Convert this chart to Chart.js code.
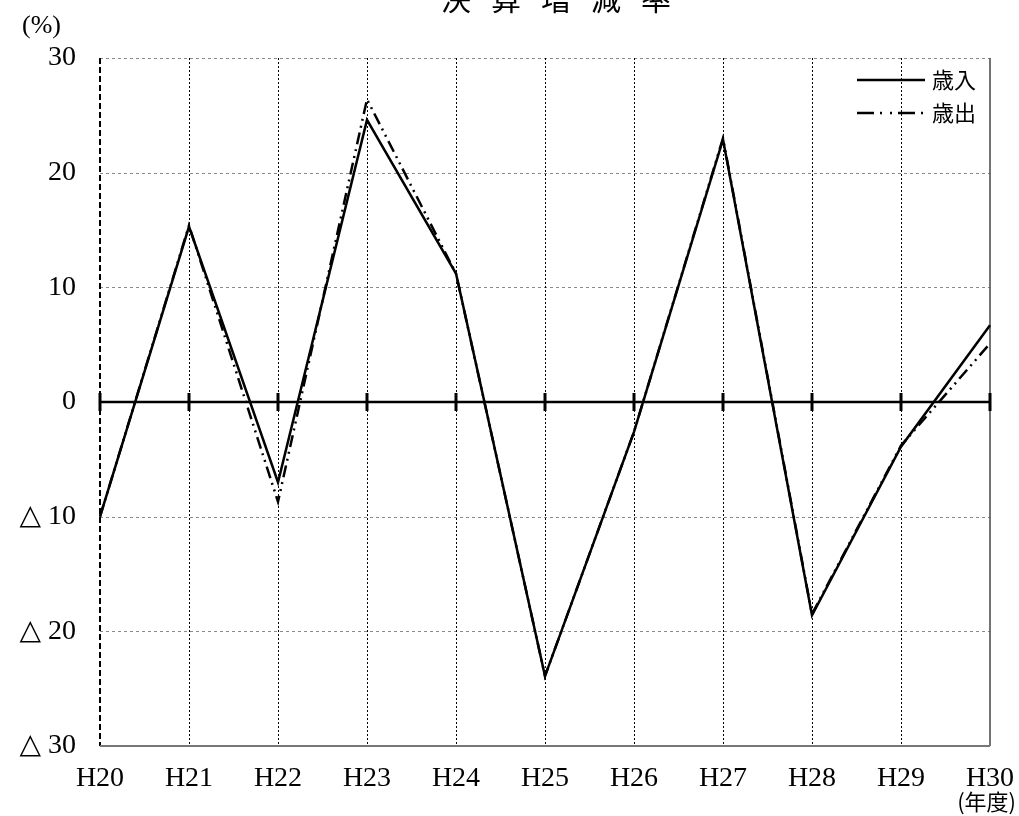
<!DOCTYPE html>
<html><head><meta charset="utf-8">
<script src="https://cdn.jsdelivr.net/npm/chart.js@4/dist/chart.umd.min.js"></script>
<style>html,body{margin:0;padding:0;background:#fff}#wrap{width:1019px;height:816px}</style>
</head><body><div id="wrap"><canvas id="c" width="1019" height="816"></canvas></div>
<script>
const categories = ['H20','H21','H22','H23','H24','H25','H26','H27','H28','H29','H30'];
const revenue = [-10.0, 15.3, -7.0, 24.6, 11.2, -23.9, -2.6, 22.9, -18.6, -3.9, 6.7];
const expenditure = [-10.0, 15.4, -8.7, 26.4, 11.2, -23.9, -2.6, 23.0, -18.5, -3.8, 5.1];
const seriesNames = ['歳入','歳出'];
const yTickValues = [30, 20, 10, 0, -10, -20, -30];
const yTickLabels = ['30','20','10','0','△ 10','△ 20','△ 30'];
const titleText = '決算増減率';
const yUnit = '(%)';
const xUnit = '(年度)';

const serif = '"Liberation Serif","DejaVu Serif",serif';
const cjk = '"Noto Sans CJK JP","Noto Sans CJK SC",sans-serif';
const dashDot = [12,5,2,5,2,5];

const decor = {
  id:'decor',
  beforeDatasetsDraw(chart){
    const {ctx, chartArea:a, scales:{x,y}} = chart;
    ctx.save();
    ctx.strokeStyle = '#8a8a8a'; ctx.lineWidth = 1; ctx.setLineDash([3,3]);
    [20,10,-10,-20].forEach(v=>{const py=Math.round(y.getPixelForValue(v))+0.5;ctx.beginPath();ctx.moveTo(a.left,py);ctx.lineTo(a.right,py);ctx.stroke();});
    const pt=Math.round(y.getPixelForValue(30))+0.5;
    ctx.beginPath();ctx.moveTo(a.left,pt);ctx.lineTo(a.right,pt);ctx.stroke();
    ctx.strokeStyle = '#000'; ctx.setLineDash([2,2]);
    for(let i=1;i<categories.length-1;i++){const px=Math.round(x.getPixelForValue(i))+0.5;ctx.beginPath();ctx.moveTo(px,a.top);ctx.lineTo(px,a.bottom);ctx.stroke();}
    ctx.lineWidth=2; ctx.setLineDash([6,3]);
    const pl=x.getPixelForValue(0);
    ctx.beginPath();ctx.moveTo(pl,a.top);ctx.lineTo(pl,a.bottom);ctx.stroke();
    ctx.setLineDash([]); ctx.strokeStyle='#444'; ctx.lineWidth=1.5;
    const pr=x.getPixelForValue(categories.length-1);
    ctx.beginPath();ctx.moveTo(pr,a.top);ctx.lineTo(pr,a.bottom);ctx.stroke();
    ctx.strokeStyle='#777'; ctx.lineWidth=2;
    const pb=y.getPixelForValue(-30);
    ctx.beginPath();ctx.moveTo(a.left,pb);ctx.lineTo(a.right,pb);ctx.stroke();
    ctx.strokeStyle='#000'; ctx.lineWidth=2.5;
    const pz=y.getPixelForValue(0);
    ctx.beginPath();ctx.moveTo(a.left,pz);ctx.lineTo(a.right,pz);ctx.stroke();
    ctx.lineWidth=3;
    for(let i=0;i<categories.length;i++){const px=x.getPixelForValue(i);ctx.beginPath();ctx.moveTo(px,pz-9);ctx.lineTo(px,pz+9);ctx.stroke();}
    ctx.restore();
  },
  afterDraw(chart){
    const {ctx} = chart;
    ctx.save();
    ctx.fillStyle='#000';
    ctx.font = '30px '+cjk; ctx.textAlign='center'; ctx.textBaseline='alphabetic';
    [...titleText].forEach((c,i)=>ctx.fillText(c, 456+i*50, 10));
    ctx.font='26px '+serif; ctx.textAlign='left';
    ctx.fillText(yUnit, 22, 33);
    ctx.font='22px '+cjk; ctx.textAlign='right';
    ctx.fillText(xUnit, 1016, 810);
    ctx.strokeStyle='#000'; ctx.lineWidth=2.5;
    ctx.setLineDash([]);
    ctx.beginPath();ctx.moveTo(857,80);ctx.lineTo(925,80);ctx.stroke();
    ctx.setLineDash([17,6,2,8,2,6]);
    ctx.beginPath();ctx.moveTo(857,113);ctx.lineTo(926,113);ctx.stroke();
    ctx.setLineDash([]);
    ctx.font='22px '+cjk; ctx.textAlign='left'; ctx.textBaseline='middle';
    ctx.fillText(seriesNames[0], 932, 80);
    ctx.fillText(seriesNames[1], 932, 113);
    ctx.restore();
  }
};

new Chart(document.getElementById('c'), {
  type:'line',
  data:{labels:categories, datasets:[
    {label:seriesNames[1], data:expenditure, borderColor:'#000', borderWidth:2.5, borderDash:dashDot, pointRadius:0, tension:0, fill:false},
    {label:seriesNames[0], data:revenue, borderColor:'#000', borderWidth:2.5, pointRadius:0, tension:0, fill:false}
  ]},
  options:{
    responsive:false, animation:false, devicePixelRatio:1,
    layout:{padding:{top:58, right:29, left:0, bottom:0}},
    plugins:{legend:{display:false}, title:{display:false}, tooltip:{enabled:false}},
    scales:{
      x:{type:'category', offset:false,
        grid:{display:false}, border:{display:false},
        ticks:{color:'#000', font:{family:serif, size:28}, padding:8, maxRotation:0, autoSkip:false},
        afterFit(s){s.height=70; s.paddingLeft=0; s.paddingRight=0;}
      },
      y:{min:-30, max:30,
        grid:{display:false, drawTicks:false}, border:{display:false},
        afterBuildTicks(s){s.ticks=yTickValues.map(v=>({value:v}));},
        ticks:{color:'#000', font:{family:serif, size:28}, padding:24,
          callback:(v)=>{const i=yTickValues.indexOf(v);return i>=0?yTickLabels[i]:'';}},
        afterFit(s){s.width=100; s.paddingTop=0; s.paddingBottom=0;}
      }
    }
  },
  plugins:[decor]
});
</script></body></html>
